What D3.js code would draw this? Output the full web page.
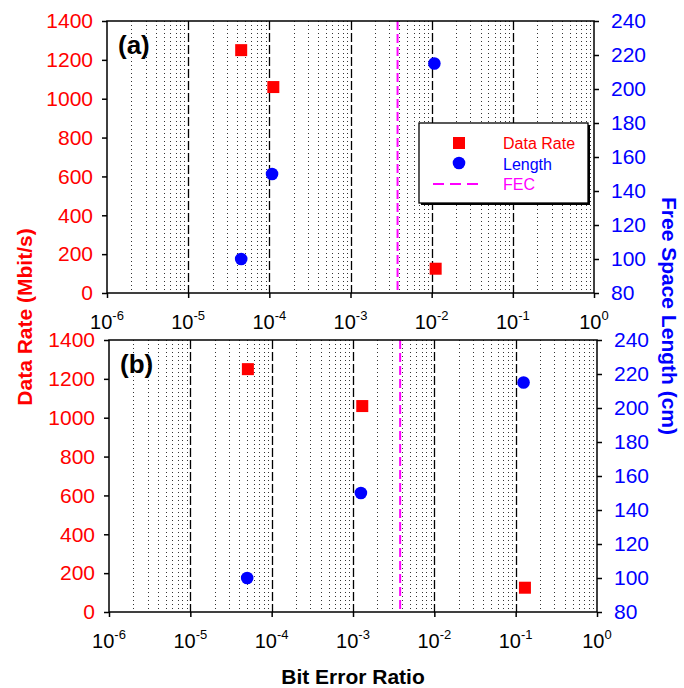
<!DOCTYPE html>
<html>
<head>
<meta charset="utf-8">
<script src="https://cdn.jsdelivr.net/npm/d3@7"></script>
<style>
  body { margin: 0; background: #fff; }
  svg { display: block; font-family: "Liberation Sans", Arial, sans-serif; }
</style>
</head>
<body>
<svg id="chart" width="684" height="688"></svg>
<script>
// ---- Data ----
const panelLabels = ["(a)", "(b)"];
const rateBER_a = [4.5e-5, 1.12e-4, 1.12e-2];
const lengthBER_a = [4.5e-5, 1.08e-4, 1.08e-2];
const rateBER_b = [5.1e-5, 1.3e-3, 1.3e-1];
const lengthBER_b = [5.0e-5, 1.25e-3, 1.25e-1];
const dataRate = [1250, 1060, 125];
const freeSpaceLength = [100, 150, 215];
const fecLimit = 3.8e-3;
const xTickExponents = [-6, -5, -4, -3, -2, -1, 0];
const leftTicks = [0, 200, 400, 600, 800, 1000, 1200, 1400];
const rightTicks = [80, 100, 120, 140, 160, 180, 200, 220, 240];
const legendLabels = ["Data Rate", "Length", "FEC"];

const RED = "#ff0000", BLUE = "#0000ff", MAG = "#ff00ff";

const svg = d3.select("#chart");

const panels = [
  { label: panelLabels[0], left: 107, right: 594, top: 21, bottom: 293, rateX: rateBER_a, lenX: lengthBER_a, legend: true },
  { label: panelLabels[1], left: 109, right: 597, top: 340, bottom: 612, rateX: rateBER_b, lenX: lengthBER_b, legend: false }
];

panels.forEach(p => {
  const x = d3.scaleLog().domain([1e-6, 1]).range([p.left, p.right]);
  const yL = d3.scaleLinear().domain([0, 1400]).range([p.bottom, p.top]);
  const yR = d3.scaleLinear().domain([80, 240]).range([p.bottom, p.top]);
  const g = svg.append("g");

  // minor grid (dotted)
  const minors = [];
  for (let e = -6; e < 0; e++) for (let m = 2; m <= 9; m++) minors.push(m * Math.pow(10, e));
  g.selectAll(".minor").data(minors).enter().append("line")
    .attr("x1", d => Math.round(x(d)) + 0.5).attr("x2", d => Math.round(x(d)) + 0.5)
    .attr("y1", p.top).attr("y2", p.bottom)
    .attr("stroke", "#333").attr("stroke-width", 1).attr("stroke-dasharray", "1,3");

  // major grid (dashed)
  const majors = xTickExponents.slice(1, -1).map(e => Math.pow(10, e));
  g.selectAll(".major").data(majors).enter().append("line")
    .attr("x1", d => Math.round(x(d)) + 0.5).attr("x2", d => Math.round(x(d)) + 0.5)
    .attr("y1", p.top).attr("y2", p.bottom)
    .attr("stroke", "#000").attr("stroke-width", 1.3).attr("stroke-dasharray", "9,3");

  // FEC line
  g.append("line")
    .attr("x1", x(fecLimit)).attr("x2", x(fecLimit))
    .attr("y1", p.top).attr("y2", p.bottom)
    .attr("stroke", MAG).attr("stroke-width", 2).attr("stroke-dasharray", "9,4");

  // frame
  g.append("rect").attr("x", p.left).attr("y", p.top)
    .attr("width", p.right - p.left).attr("height", p.bottom - p.top)
    .attr("fill", "none").attr("stroke", "#000").attr("stroke-width", 1.5);

  // left axis
  const axL = g.append("g").attr("transform", `translate(${p.left},0)`)
    .call(d3.axisLeft(yL).tickValues(leftTicks).tickSize(5).tickPadding(9).tickFormat(d3.format("d")));
  axL.select(".domain").remove();
  axL.selectAll("line").attr("stroke", "#000").attr("stroke-width", 1.5);
  axL.selectAll("text").attr("fill", RED).attr("font-size", 21).attr("font-family", "Liberation Sans, Arial, sans-serif");

  // right axis
  const axR = g.append("g").attr("transform", `translate(${p.right},0)`)
    .call(d3.axisRight(yR).tickValues(rightTicks).tickSize(5).tickPadding(12).tickFormat(d3.format("d")));
  axR.select(".domain").remove();
  axR.selectAll("line").attr("stroke", "#000").attr("stroke-width", 1.5);
  axR.selectAll("text").attr("fill", BLUE).attr("font-size", 21).attr("font-family", "Liberation Sans, Arial, sans-serif");

  // bottom axis
  const axB = g.append("g").attr("transform", `translate(0,${p.bottom})`)
    .call(d3.axisBottom(x).tickValues(xTickExponents.map(e => Math.pow(10, e))).tickSize(5).tickFormat(""));
  axB.select(".domain").remove();
  axB.selectAll("line").attr("stroke", "#000").attr("stroke-width", 1.5);
  xTickExponents.forEach(e => {
    const t = g.append("text")
      .attr("x", x(Math.pow(10, e))).attr("y", p.bottom + 36)
      .attr("text-anchor", "middle").attr("fill", "#000")
      .attr("font-size", 20);
    t.append("tspan").text("10");
    t.append("tspan").attr("dy", -9).attr("font-size", 13).text(String(e));
  });

  // panel label
  g.append("text").attr("x", p.left + 11).attr("y", p.top + 33)
    .attr("font-size", 26).attr("font-weight", "bold").text(p.label);

  // data markers
  const sq = 12;
  g.selectAll(".sq").data(dataRate).enter().append("rect")
    .attr("x", (d, i) => x(p.rateX[i]) - sq / 2).attr("y", d => yL(d) - sq / 2)
    .attr("width", sq).attr("height", sq).attr("fill", RED);
  g.selectAll(".dot").data(freeSpaceLength).enter().append("circle")
    .attr("cx", (d, i) => x(p.lenX[i])).attr("cy", d => yR(d))
    .attr("r", 6.3).attr("fill", BLUE);

  if (p.legend) {
    const lg = g.append("g").attr("transform", "translate(419,123)");
    lg.append("rect").attr("x", 2).attr("y", 2).attr("width", 169).attr("height", 80).attr("fill", "#000");
    lg.append("rect").attr("x", 0).attr("y", 0).attr("width", 169).attr("height", 80)
      .attr("fill", "#fff").attr("stroke", "#000").attr("stroke-width", 1.3);
    lg.append("rect").attr("x", 40 - 6).attr("y", 20 - 6).attr("width", 12).attr("height", 12).attr("fill", RED);
    lg.append("circle").attr("cx", 40).attr("cy", 40).attr("r", 6.3).attr("fill", BLUE);
    lg.append("line").attr("x1", 14).attr("x2", 64).attr("y1", 61).attr("y2", 61)
      .attr("stroke", MAG).attr("stroke-width", 2).attr("stroke-dasharray", "11,6");
    const cols = [RED, BLUE, MAG];
    legendLabels.forEach((t, i) => {
      lg.append("text").attr("x", 84).attr("y", 26 + i * 20.5).attr("fill", cols[i])
        .attr("font-size", 16).text(t);
    });
  }
});

// axis titles
svg.append("text").attr("transform", "translate(32,317) rotate(-90)")
  .attr("text-anchor", "middle").attr("fill", RED).attr("font-size", 21).attr("font-weight", "bold")
  .text("Data Rate (Mbit/s)");
svg.append("text").attr("transform", "translate(662,316) rotate(90)")
  .attr("text-anchor", "middle").attr("fill", BLUE).attr("font-size", 21).attr("font-weight", "bold")
  .text("Free Space Length (cm)");
svg.append("text").attr("x", 353).attr("y", 684)
  .attr("text-anchor", "middle").attr("fill", "#000").attr("font-size", 21).attr("font-weight", "bold")
  .text("Bit Error Ratio");
</script>
</body>
</html>
